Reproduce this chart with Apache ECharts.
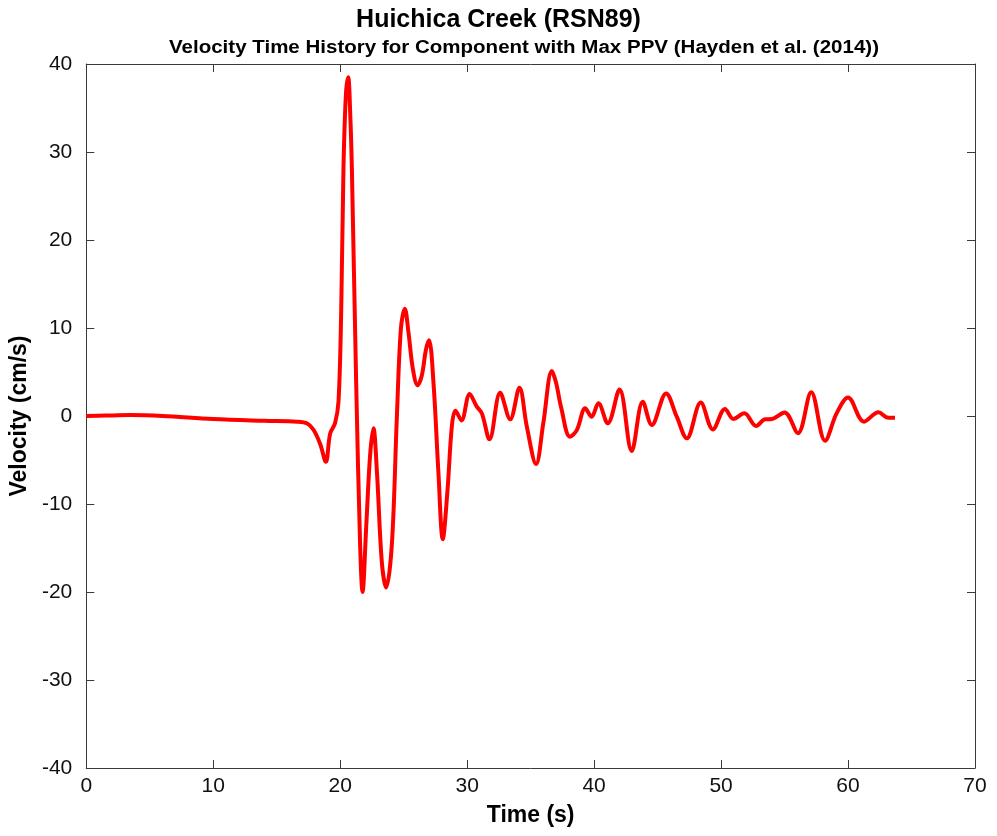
<!DOCTYPE html>
<html>
<head>
<meta charset="utf-8">
<script src="https://cdn.jsdelivr.net/npm/echarts@6/dist/echarts.min.js"></script>
<style>
html,body{margin:0;padding:0;background:#fff;}
#chart{width:997px;height:836px;}
</style>
</head>
<body>
<div id="chart"></div>
<script>
// Data
var timeS = [0, 1.5, 3.5, 6, 10, 14, 16.6, 17.4, 17.9, 18.43, 18.87, 19.21, 19.6, 19.87, 20.08, 20.26, 20.45, 20.63, 20.8, 20.92,
  21.26, 21.57, 21.76, 22.05, 22.36, 22.62, 22.9, 23.28, 23.62, 24.07, 24.46, 24.78, 25.09, 25.38, 25.72, 26.09, 26.43, 26.75, 27.0, 27.35,
  27.74, 28.08, 28.45, 28.8, 29.08, 29.55, 30.2, 30.76, 31.16, 31.76, 32.6, 33.39, 34.12, 34.7, 35.43, 36.0, 36.67, 37.0, 37.4, 38.1, 38.64,
  39.3, 39.8, 40.34, 41.07, 42.0, 42.96, 43.83, 44.54, 45.67, 46.51, 47.3, 48.4, 49.35, 50.31, 50.97, 51.83, 52.76, 53.46, 54.0, 55.0,
  56.05, 57.1, 58.19, 59.1, 60.0, 61.26, 62.39, 63.17, 63.7];
var velocity = [0, 0.05, 0.1, 0.0, -0.35, -0.55, -0.65, -0.85, -1.56, -3.2, -5.2, -2.0, -0.8, 1.7, 11.9, 28.2, 36.5, 38.5, 34, 28.2,
  3.75, -14.6, -20.0, -12.6, -4.4, -1.4, -6.5, -16.6, -19.5, -14.6, -0.3, 9.9, 12.2, 9.5, 5.4, 3.5, 4.6, 7.5, 8.6, 3.75,
  -6.5, -14.0, -8.5, -1.1, 0.6, -0.5, 2.5, 1.06, 0.3, -2.65, 2.65, -0.38, 3.2, -1.2, -5.45, -0.8, 5.1, 3.8, 1.0, -2.35, -1.6,
  0.87, -0.08, 1.44, -0.83, 3.0, -3.98, 1.63, -1.02, 2.57, -0.08, -2.54, 1.52, -1.52, 0.8, -0.34, 0.3, -1.14, -0.38, -0.34, 0.4,
  -1.95, 2.7, -2.8, 0.3, 2.1, -0.64, 0.42, -0.19, -0.19];
var xTicks = {min: 0, max: 70, interval: 10};
var yTicks = {min: -40, max: 40, interval: 10};
var titleText = 'Huichica Creek (RSN89)';
var subtitleText = 'Velocity Time History for Component with Max PPV (Hayden et al. (2014))';
var xName = 'Time (s)';
var yName = 'Velocity (cm/s)';

var pts = timeS.map(function (t, i) { return [t, velocity[i]]; });

var sans = '"Liberation Sans", Arial, sans-serif';
var axisColor = '#3a3a3a';

function axisCommon(show) {
  return {
    axisLine: {show: true, onZero: false, lineStyle: {color: axisColor, width: 1}},
    axisTick: {show: true, inside: true, length: 8, lineStyle: {color: axisColor}},
    splitLine: {show: false},
    axisLabel: show ? {show: true, color: '#111', fontSize: 21, fontFamily: sans} : {show: false}
  };
}

var chart = echarts.init(document.getElementById('chart'), null, {renderer: 'canvas'});
chart.setOption({
  animation: false,
  backgroundColor: '#fff',
  title: [
    {text: titleText, left: 'center', top: 3,
      textStyle: {fontFamily: sans, fontWeight: 'bold', fontSize: 25, color: '#000'}}
  ],
  graphic: [
    {type: 'text', x: 524, y: 39, scaleX: 1.14, silent: true,
      style: {text: subtitleText, fontFamily: sans, fontWeight: 'bold', fontSize: 18, fill: '#000',
        align: 'center', verticalAlign: 'top'}}
  ],
  grid: {left: 86, right: 22, top: 64, bottom: 68, containLabel: false},
  xAxis: [
    Object.assign({type: 'value', position: 'bottom', min: xTicks.min, max: xTicks.max, interval: xTicks.interval,
      name: xName, nameLocation: 'middle', nameGap: 36,
      nameTextStyle: {fontFamily: sans, fontWeight: 'bold', fontSize: 23, color: '#000'}}, axisCommon(true),
      {axisLabel: {show: true, color: '#111', fontSize: 21, fontFamily: sans, margin: 8}}),
    Object.assign({type: 'value', position: 'top', min: xTicks.min, max: xTicks.max, interval: xTicks.interval}, axisCommon(false))
  ],
  yAxis: [
    Object.assign({type: 'value', position: 'left', min: yTicks.min, max: yTicks.max, interval: yTicks.interval,
      name: yName, nameLocation: 'middle', nameGap: 53, nameRotate: 90,
      nameTextStyle: {fontFamily: sans, fontWeight: 'bold', fontSize: 23, color: '#000'}}, axisCommon(true),
      {axisLabel: {show: true, color: '#111', fontSize: 21, fontFamily: sans, margin: 14}}),
    Object.assign({type: 'value', position: 'right', min: yTicks.min, max: yTicks.max, interval: yTicks.interval}, axisCommon(false))
  ],
  series: [{
    type: 'line',
    data: pts,
    xAxisIndex: 0,
    yAxisIndex: 0,
    smooth: 0.35,
    showSymbol: false,
    lineStyle: {color: '#ff0000', width: 4},
    itemStyle: {color: '#ff0000'}
  }]
});
</script>
</body>
</html>
